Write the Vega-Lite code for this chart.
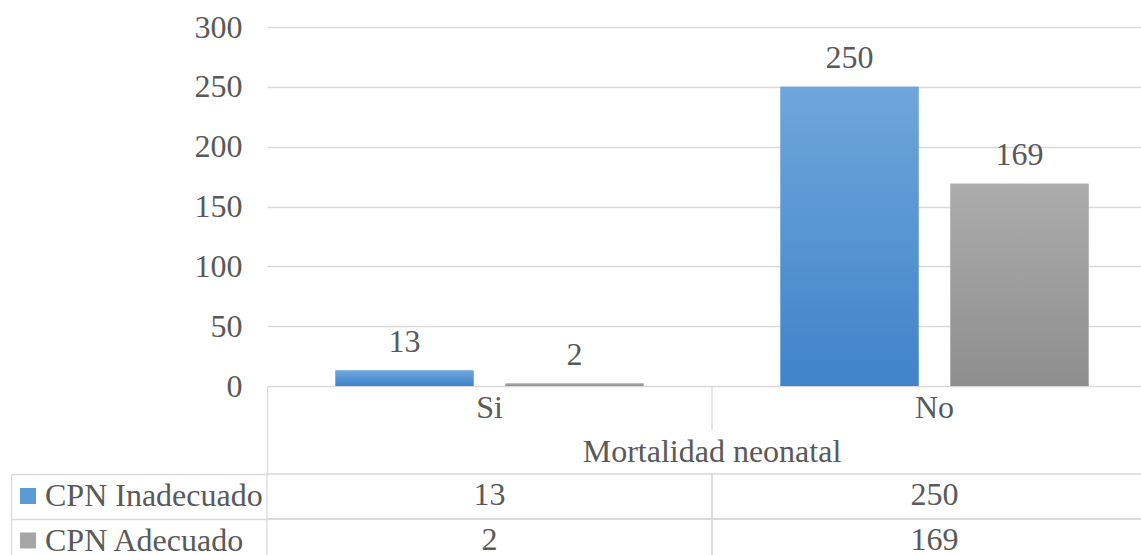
{
  "$schema": "https://vega.github.io/schema/vega-lite/v6.json",
  "width": 874,
  "height": 359,
  "autosize": {"type": "none"},
  "padding": {"left": 267, "top": 27, "right": 0, "bottom": 169},
  "background": "white",
  "config": {
    "view": {"stroke": null},
    "font": "Liberation Serif, Times New Roman, serif",
    "axis": {"labelFont": "Liberation Serif, Times New Roman, serif", "labelColor": "#595959", "labelFontSize": 32},
    "legend": {"labelFont": "Liberation Serif, Times New Roman, serif"},
    "text": {"font": "Liberation Serif, Times New Roman, serif", "fontSize": 32, "fill": "#595959"}
  },
  "datasets": {
    "conteos": [
      {"mortalidad": "Si", "cpn": "CPN Inadecuado", "n": 13},
      {"mortalidad": "Si", "cpn": "CPN Adecuado", "n": 2},
      {"mortalidad": "No", "cpn": "CPN Inadecuado", "n": 250},
      {"mortalidad": "No", "cpn": "CPN Adecuado", "n": 169}
    ],
    "cabecera": [
      {"mortalidad": "Si", "fila": "cat", "texto": "Si"},
      {"mortalidad": "No", "fila": "cat", "texto": "No"}
    ],
    "titulo": [
      {"mortalidad": "No", "fila": "titulo", "texto": "Mortalidad neonatal"}
    ],
    "divisor": [
      {"mortalidad": "No", "fila": "cat"}
    ]
  },
  "resolve": {"scale": {"y": "independent"}},
  "layer": [
    {
      "data": {"name": "conteos"},
      "encoding": {
        "x": {
          "field": "mortalidad", "type": "nominal", "axis": null,
          "scale": {"type": "band", "domain": ["Si", "No"], "range": [0, 890], "paddingInner": 0, "paddingOuter": 0}
        },
        "xOffset": {
          "field": "cpn", "type": "nominal",
          "scale": {"domain": ["CPN Inadecuado", "CPN Adecuado"], "paddingInner": 0.188, "paddingOuter": 0.403}
        },
        "y": {
          "field": "n", "type": "quantitative",
          "scale": {"domain": [0, 300], "nice": false, "zero": true},
          "axis": {
            "orient": "left", "title": null, "domain": false, "ticks": false,
            "values": [0, 50, 100, 150, 200, 250, 300], "labelPadding": 25,
            "grid": true, "gridColor": "#d9d9d9", "gridWidth": 1.3
          }
        }
      },
      "layer": [
        {
          "mark": {"type": "bar"},
          "encoding": {
            "color": {
              "field": "cpn", "type": "nominal",
              "scale": {"domain": ["CPN Inadecuado", "CPN Adecuado"], "range": ["#5b9bd5", "#a5a5a5"]},
              "legend": {
                "title": null, "orient": "none", "legendX": -255, "legendY": 453,
                "direction": "vertical", "symbolType": "square", "symbolSize": 256,
                "symbolStrokeWidth": 0, "labelFontSize": 32,
                "labelColor": "#595959", "labelOffset": 1, "rowPadding": 12.5,
                "padding": 0, "labelLimit": 400
              }
            }
          }
        },
        {
          "transform": [{"filter": "datum.cpn === 'CPN Inadecuado'"}],
          "mark": {
            "type": "bar",
            "color": {"gradient": "linear", "x1": 0, "y1": 0, "x2": 0, "y2": 1,
                      "stops": [{"offset": 0, "color": "#6fa6dc"}, {"offset": 1, "color": "#4083c9"}]}
          }
        },
        {
          "transform": [{"filter": "datum.cpn === 'CPN Adecuado'"}],
          "mark": {
            "type": "bar",
            "color": {"gradient": "linear", "x1": 0, "y1": 0, "x2": 0, "y2": 1,
                      "stops": [{"offset": 0, "color": "#acacac"}, {"offset": 1, "color": "#8e8e8e"}]}
          }
        },
        {
          "mark": {"type": "text", "baseline": "alphabetic", "dy": -18.5},
          "encoding": {"text": {"field": "n", "type": "quantitative"}}
        }
      ]
    },
    {
      "encoding": {
        "x": {
          "field": "mortalidad", "type": "nominal", "axis": null,
          "scale": {"type": "band", "domain": ["Si", "No"], "range": [0, 890], "paddingInner": 0, "paddingOuter": 0}
        }
      },
      "layer": [
        {
          "data": {"name": "cabecera"},
          "mark": {"type": "text", "baseline": "middle"},
          "encoding": {
            "y": {
              "field": "fila", "type": "nominal",
              "scale": {"type": "band", "domain": ["cat", "titulo"], "range": [359, 447], "paddingInner": 0, "paddingOuter": 0},
              "axis": {"orient": "left", "title": null, "labels": false, "ticks": false, "grid": false,
                       "domain": true, "domainColor": "#d9d9d9", "domainWidth": 1.3}
            },
            "text": {"field": "texto"}
          }
        },
        {
          "data": {"name": "titulo"},
          "mark": {"type": "text", "baseline": "middle"},
          "encoding": {
            "x": {"field": "mortalidad", "type": "nominal", "bandPosition": 0},
            "y": {"field": "fila", "type": "nominal"},
            "text": {"field": "texto"}
          }
        },
        {
          "data": {"name": "divisor"},
          "mark": {"type": "rule", "stroke": "#d9d9d9", "strokeWidth": 1.3},
          "encoding": {
            "x": {"field": "mortalidad", "type": "nominal", "bandPosition": 0},
            "y": {"field": "fila", "type": "nominal", "bandPosition": 0},
            "y2": {"field": "fila", "bandPosition": 1}
          }
        }
      ]
    },
    {
      "data": {"name": "conteos"},
      "encoding": {
        "x": {
          "field": "mortalidad", "type": "nominal", "axis": null,
          "scale": {"type": "band", "domain": ["Si", "No"], "range": [0, 890], "paddingInner": 0, "paddingOuter": 0}
        },
        "y": {
          "field": "cpn", "type": "nominal",
          "scale": {"type": "band", "domain": ["CPN Inadecuado", "CPN Adecuado"], "range": [447, 537], "paddingInner": 0, "paddingOuter": 0},
          "axis": {"orient": "left", "offset": 256, "title": null, "labels": false, "grid": false,
                   "domain": true, "domainColor": "#d9d9d9", "domainWidth": 1.3,
                   "ticks": true, "tickBand": "extent", "tickSize": -256, "tickColor": "#d9d9d9", "tickWidth": 1.3}
        }
      },
      "layer": [
        {"mark": {"type": "rect", "filled": false, "stroke": "#d9d9d9", "strokeWidth": 1.3}},
        {
          "mark": {"type": "text", "baseline": "middle", "dy": -1.5},
          "encoding": {"text": {"field": "n", "type": "quantitative"}}
        }
      ]
    }
  ]
}
